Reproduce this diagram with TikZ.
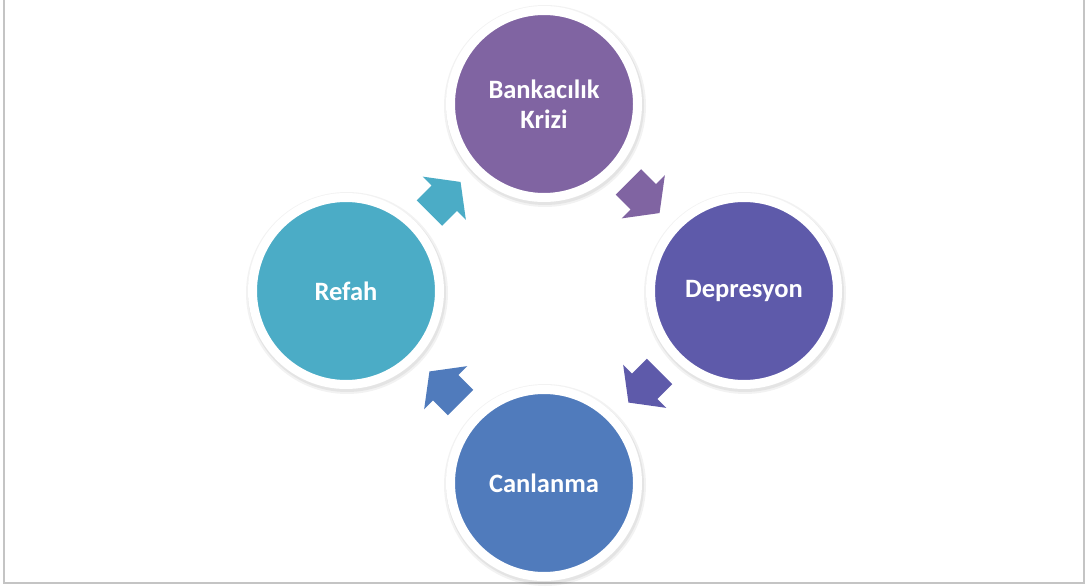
\documentclass[tikz,border=0pt]{standalone}
\usepackage{fontspec}
\setmainfont{Carlito}
\usetikzlibrary{calc}

\definecolor{krizcol}{RGB}{128,100,162}
\definecolor{deprcol}{RGB}{94,90,170}
\definecolor{canlcol}{RGB}{80,123,188}
\definecolor{refahcol}{RGB}{75,172,198}
\definecolor{framecol}{RGB}{196,196,196}

\begin{document}
\begin{tikzpicture}[
  x=1pt, y=-1pt,
  every node/.style={inner sep=0pt, outer sep=0pt},
  stage/.style={circle, draw=white, line width=9pt, minimum size=187pt,
    text=white, align=center, font=\bfseries\fontsize{26.5}{30}\selectfont},
  pics/cyclearrow/.style={code={
    \fill[#1] (-22,-18) -- (-1,-18) -- (-1,-30.5) -- (22,0)
      -- (-1,30.5) -- (-1,18) -- (-22,18) -- cycle;
  }}
]
\useasboundingbox (0,0) rectangle (1089,586);

% Frame of the slide; its top edge is cut off.
\draw[framecol, line width=2pt] (4,0) -- (4,583) -- (1084,583) -- (1084,0);

% Centres of the four phases.
\coordinate (K) at (544,104);
\coordinate (D) at (744,291);
\coordinate (C) at (544,483);
\coordinate (R) at (346,291);

% Soft shadows under the rings.
\foreach \p in {K,D,C,R}{
  \fill[black, opacity=0.05] ($(\p)+(1,2)$) circle (101pt);
  \fill[black, opacity=0.06] ($(\p)+(1,2)$) circle (99pt);
}

\node[stage, fill=krizcol] (kriz) at (K) {Bankacılık\\Krizi};
\node[stage, fill=deprcol] (depr) at (D) {Depresyon};
\node[stage, fill=canlcol] (canl) at (C) {Canlanma};
\node[stage, fill=refahcol] (refah) at (R) {Refah};

% Block arrows halfway between neighbours, clockwise.
\pic[rotate=-45]  at ($(kriz)!0.5!(depr)$)  {cyclearrow=krizcol};
\pic[rotate=-135] at ($(depr)!0.5!(canl)$)  {cyclearrow=deprcol};
\pic[rotate=135]  at ($(canl)!0.5!(refah)$) {cyclearrow=canlcol};
\pic[rotate=45]   at ($(refah)!0.5!(kriz)$) {cyclearrow=refahcol};

\end{tikzpicture}
\end{document}
